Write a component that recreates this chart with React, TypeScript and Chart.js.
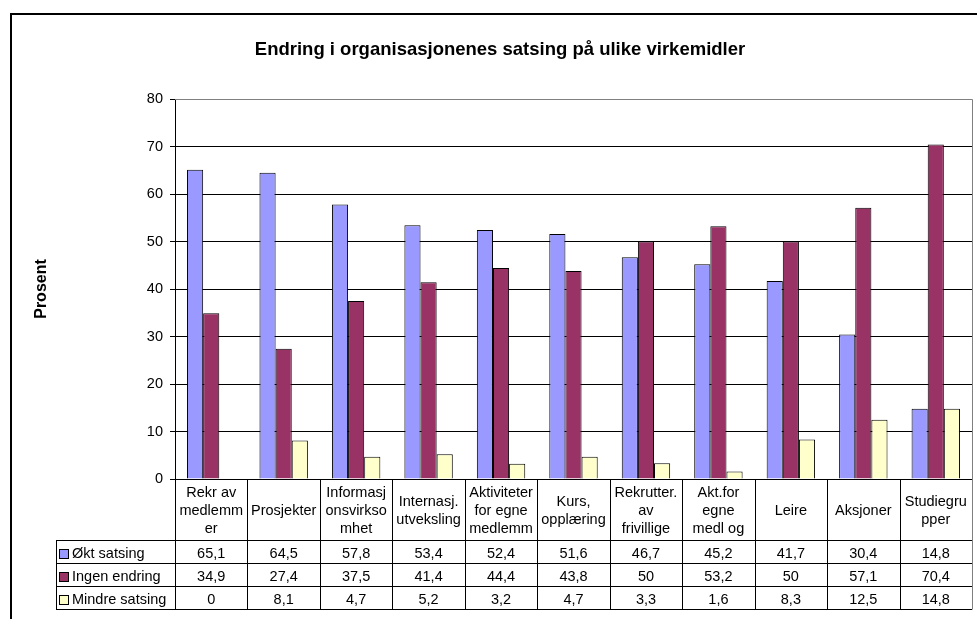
import React, { useEffect, useRef } from 'react';
import { Chart, registerables } from 'chart.js';

Chart.register(...registerables);

const chartTitle = 'Endring i organisasjonenes satsing på ulike virkemidler';
const yAxisTitle = 'Prosent';

// Category labels as wrapped in the original data table
const categoryLines: string[][] = [
  ['Rekr av', 'medlemm', 'er'],
  ['Prosjekter'],
  ['Informasj', 'onsvirkso', 'mhet'],
  ['Internasj.', 'utveksling'],
  ['Aktiviteter', 'for egne', 'medlemm'],
  ['Kurs,', 'opplæring'],
  ['Rekrutter.', 'av', 'frivillige'],
  ['Akt.for', 'egne', 'medl og'],
  ['Leire'],
  ['Aksjoner'],
  ['Studiegru', 'pper'],
];

const seriesNames = ['Økt satsing', 'Ingen endring', 'Mindre satsing'];
const oktSatsing = [65.1, 64.5, 57.8, 53.4, 52.4, 51.6, 46.7, 45.2, 41.7, 30.4, 14.8];
const ingenEndring = [34.9, 27.4, 37.5, 41.4, 44.4, 43.8, 50, 53.2, 50, 57.1, 70.4];
const mindreSatsing = [0, 8.1, 4.7, 5.2, 3.2, 4.7, 3.3, 1.6, 8.3, 12.5, 14.8];
const seriesColors = ['#9999FF', '#993366', '#FFFFCC'];

const yMin = 0;
const yMax = 80;
const yStep = 10;

const FONT = '"Liberation Sans", Arial, Helvetica, sans-serif';
const fmt = (v: number) => String(v).replace('.', ',');

const decorPlugin = {
  id: 'decor',
  beforeDraw(chart: any) {
    const { ctx } = chart;
    ctx.save();
    ctx.fillStyle = '#ffffff';
    ctx.fillRect(0, 0, chart.width, chart.height);
    ctx.restore();
  },
  afterDraw(chart: any) {
    const { ctx, chartArea } = chart;
    const xs = chart.scales.x;
    const n = categoryLines.length;
    const series = [oktSatsing, ingenEndring, mindreSatsing];
    const { left, right, top, bottom } = chartArea;
    const labelRowBottom = bottom + 61;
    const rowH = 23;
    const tableLeft = 56;
    const tableBottom = labelRowBottom + rowH * 3;

    ctx.save();
    // outer frame
    ctx.strokeStyle = '#000';
    ctx.lineWidth = 2;
    ctx.beginPath();
    ctx.moveTo(11, chart.height + 2);
    ctx.lineTo(11, 14);
    ctx.lineTo(chart.width + 2, 14);
    ctx.stroke();

    // title
    ctx.fillStyle = '#000';
    ctx.font = `bold 18.5px ${FONT}`;
    ctx.textAlign = 'center';
    ctx.textBaseline = 'alphabetic';
    ctx.fillText(chartTitle, 500, 55);

    // y axis title
    ctx.save();
    ctx.font = `bold 16px ${FONT}`;
    ctx.translate(46, (top + bottom) / 2);
    ctx.rotate(-Math.PI / 2);
    ctx.fillText(yAxisTitle, 0, 0);
    ctx.restore();

    // plot border (gray) top & right
    ctx.strokeStyle = '#808080';
    ctx.lineWidth = 1;
    ctx.beginPath();
    ctx.moveTo(left, Math.round(top) + 0.5);
    ctx.lineTo(Math.round(right) + 0.5, Math.round(top) + 0.5);
    ctx.lineTo(Math.round(right) + 0.5, tableBottom + 0.5);
    ctx.stroke();

    // table grid
    ctx.strokeStyle = '#000';
    ctx.beginPath();
    for (let i = 0; i < n; i++) {
      const xb = Math.round(xs.getPixelForValue(i - 0.5)) + 0.5;
      ctx.moveTo(xb, bottom);
      ctx.lineTo(xb, tableBottom + 1);
    }
    for (let r = 0; r <= 3; r++) {
      const yy = labelRowBottom + rowH * r + 0.5;
      ctx.moveTo(tableLeft, yy);
      ctx.lineTo(Math.round(right), yy);
    }
    ctx.moveTo(tableLeft + 0.5, labelRowBottom);
    ctx.lineTo(tableLeft + 0.5, tableBottom + 1);
    ctx.stroke();

    // category labels
    ctx.font = `14.5px ${FONT}`;
    ctx.textAlign = 'center';
    ctx.textBaseline = 'middle';
    ctx.fillStyle = '#000';
    const labelMid = (bottom + labelRowBottom) / 2 + 1;
    for (let i = 0; i < n; i++) {
      const cx = xs.getPixelForValue(i);
      const lines = categoryLines[i];
      lines.forEach((ln, j) => {
        ctx.fillText(ln, cx, labelMid + (j - (lines.length - 1) / 2) * 18);
      });
    }

    // data rows
    for (let r = 0; r < 3; r++) {
      const cy = labelRowBottom + rowH * (r + 0.5) + 2.5;
      // legend key
      const ky = Math.round(cy - 4.5) + 0.5 - 1;
      ctx.fillStyle = seriesColors[r];
      ctx.fillRect(59.5, ky, 9, 9);
      ctx.strokeStyle = '#000';
      ctx.lineWidth = 1;
      ctx.strokeRect(59.5, ky, 9, 9);
      ctx.fillStyle = '#000';
      ctx.textAlign = 'left';
      ctx.fillText(seriesNames[r], 72, cy);
      ctx.textAlign = 'center';
      for (let i = 0; i < n; i++) {
        ctx.fillText(fmt(series[r][i]), xs.getPixelForValue(i), cy);
      }
    }
    ctx.restore();
  },
};

export default function App() {
  const canvasRef = useRef<HTMLCanvasElement | null>(null);

  useEffect(() => {
    const canvas = canvasRef.current;
    if (!canvas) return;
    const dataSeries = [oktSatsing, ingenEndring, mindreSatsing];
    const chart = new Chart(canvas, {
      type: 'bar',
      data: {
        labels: categoryLines.map((l) => l.join(' ')),
        datasets: dataSeries.map((d, k) => ({
          label: seriesNames[k],
          data: d,
          backgroundColor: seriesColors[k],
          borderColor: '#000000',
          borderWidth: 1,
          categoryPercentage: 0.668,
          barPercentage: 1,
        })),
      },
      options: {
        responsive: false,
        animation: false,
        devicePixelRatio: 1,
        layout: { padding: { top: 99, right: 5, bottom: 140, left: 0 } },
        plugins: {
          legend: { display: false },
          tooltip: { enabled: false },
          title: { display: false },
        },
        scales: {
          x: { display: false },
          y: {
            min: yMin,
            max: yMax,
            ticks: {
              stepSize: yStep,
              color: '#000',
              padding: 7,
              font: { family: FONT, size: 14.5 },
            },
            grid: {
              color: (c: any) => (c.tick && c.tick.value === yMax ? '#808080' : '#000000'),
              tickColor: '#000000',
              tickLength: 5,
              lineWidth: 1,
            },
            border: { color: '#000000', width: 1 },
            afterFit: (s: any) => {
              s.width = 175;
            },
          },
        },
      },
      plugins: [decorPlugin],
    } as any);
    return () => chart.destroy();
  }, []);

  return (
    <div style={{ position: 'fixed', left: 0, top: 0, width: 977, height: 619, background: '#fff' }}>
      <canvas ref={canvasRef} width={977} height={619} style={{ display: 'block' }} />
    </div>
  );
}
